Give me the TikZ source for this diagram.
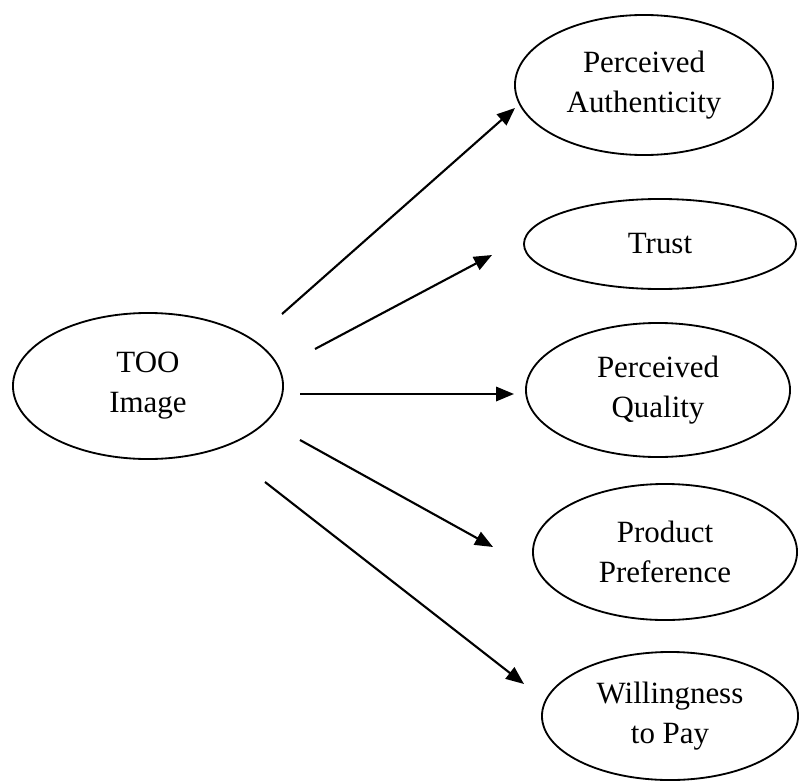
\documentclass[tikz,border=0pt]{standalone}
\usepackage{fontspec}
\setmainfont{Liberation Serif}
\usepackage{tikz}
\usetikzlibrary{shapes, arrows.meta, positioning, calc}

\begin{document}
\begin{tikzpicture}[x=0.025cm, y=-0.025cm,
  oval/.style={draw, ellipse, line width=1.3pt, inner sep=0pt, align=center,
    font=\fontsize{22}{28.5}\selectfont},
  link/.style={line width=1.5pt, -{Triangle[length=0.45cm, width=0.36cm]}}]
  % Frame of the picture (800 x 781 px, y downwards)
  \useasboundingbox (0,0) rectangle (800,781);

  % Source construct
  \node[oval, minimum width=6.75cm, minimum height=3.65cm] (too) at (148,386) {TOO\\Image};

  % Outcome constructs
  \node[oval, minimum width=6.45cm, minimum height=3.5cm] (pa) at (644,85) {Perceived\\Authenticity};
  \node[oval, minimum width=6.8cm, minimum height=2.25cm] (trust) at (660,244) {Trust};
  \node[oval, minimum width=6.6cm, minimum height=3.35cm] (pq) at (658,390) {Perceived\\Quality};
  \node[oval, minimum width=6.6cm, minimum height=3.4cm] (pp) at (665,552) {Product\\Preference};
  \node[oval, minimum width=6.4cm, minimum height=3.2cm] (wtp) at (670,716) {Willingness\\to Pay};

  % Arrow ends (the arrows float between the ellipses)
  \coordinate (s1) at (282,314);  \coordinate (e1) at (515,108);
  \coordinate (s2) at (315,349);  \coordinate (e2) at (492,255);
  \coordinate (s3) at (300,394);  \coordinate (e3) at (514,394);
  \coordinate (s4) at (300,440);  \coordinate (e4) at (493,547);
  \coordinate (s5) at (265,482);  \coordinate (e5) at (524,684);

  % Paths
  \draw[link] (s1) -- (e1);
  \draw[link] (s2) -- (e2);
  \draw[link] (s3) -- (e3);
  \draw[link] (s4) -- (e4);
  \draw[link] (s5) -- (e5);
\end{tikzpicture}
\end{document}
